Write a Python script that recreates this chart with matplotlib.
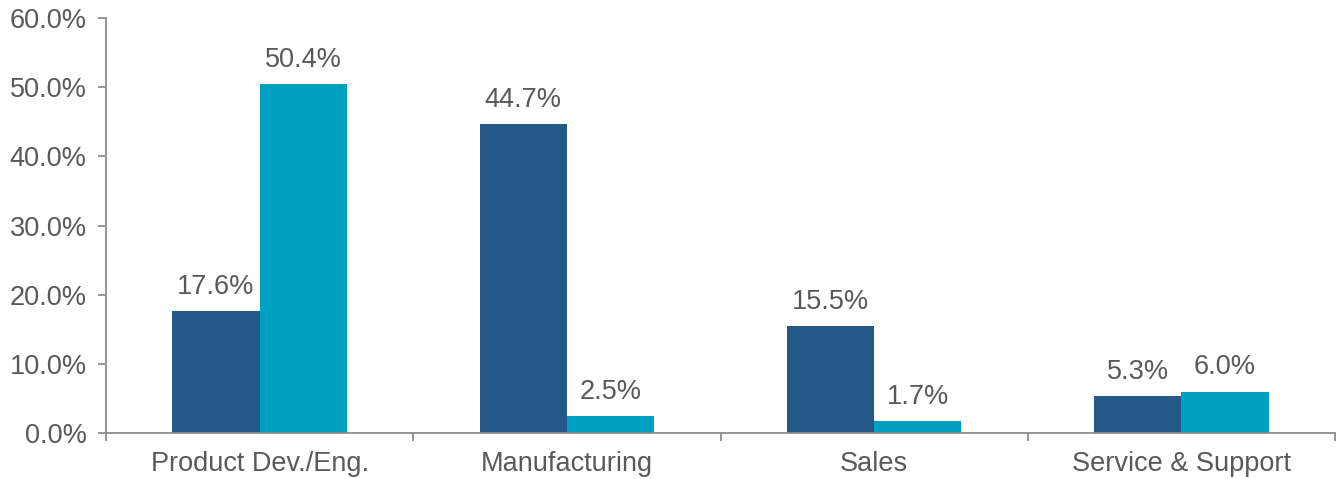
import matplotlib
matplotlib.use("Agg")
import matplotlib.pyplot as plt
import numpy as np

categories = ["Product Dev./Eng.", "Manufacturing", "Sales", "Service & Support"]
series_a = [17.6, 44.7, 15.5, 5.3]
series_b = [50.4, 2.5, 1.7, 6.0]
y_ticks = [0, 10, 20, 30, 40, 50, 60]

plt.rcParams['font.family'] = ['Liberation Sans', 'DejaVu Sans']
text_color = '#595959'
axis_color = '#8c8c8c'
c_a = '#245987'
c_b = '#00A0C1'
fs = 19.5

fig = plt.figure(figsize=(13.38, 4.79), dpi=100)
ax = fig.add_axes([106/1338, 1 - 433/479, (1335-106)/1338, (433-18)/479])

x = np.arange(len(categories))
w = 0.284
ba = ax.bar(x - w/2, series_a, w, color=c_a, linewidth=0)
bb = ax.bar(x + w/2, series_b, w, color=c_b, linewidth=0)

for bars, vals in ((ba, series_a), (bb, series_b)):
    for r, v in zip(bars, vals):
        ax.annotate(f"{v:.1f}%", (r.get_x() + r.get_width()/2, v),
                    xytext=(0, 8), textcoords='offset points', ha='center', va='bottom',
                    fontsize=fs, color=text_color)

ax.set_xlim(-0.5, len(categories) - 0.5)
ax.set_ylim(0, 60)
ax.set_yticks(y_ticks)
ax.set_yticklabels([f"{t:.1f}%" for t in y_ticks], fontsize=fs, color=text_color)

ax.set_xticks(x)
ax.set_xticklabels(categories, fontsize=fs, color=text_color)
ax.tick_params(axis='x', which='major', length=0, pad=13)
ax.set_xticks(np.arange(-0.5, len(categories)), minor=True)
ax.tick_params(axis='x', which='minor', length=6, color=axis_color, width=1.3)
ax.tick_params(axis='y', length=6, color=axis_color, width=1.3, pad=8)

for s in ['top', 'right']:
    ax.spines[s].set_visible(False)
for s in ['left', 'bottom']:
    ax.spines[s].set_color(axis_color)
    ax.spines[s].set_linewidth(1.3)

fig.savefig("out.png", dpi=100)
